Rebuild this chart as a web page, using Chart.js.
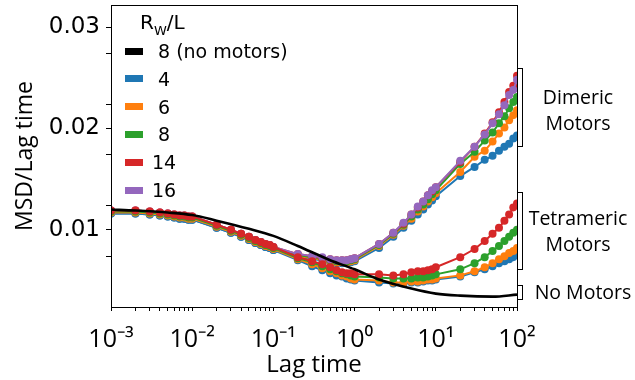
<!DOCTYPE html>
<html><head><meta charset="utf-8">
<script src="https://cdn.jsdelivr.net/npm/chart.js@4.4.0/dist/chart.umd.min.js"></script>
<style>
html,body{margin:0;padding:0;background:#fff;}
#wrap{position:relative;width:635px;height:380px;overflow:hidden;background:#fff;}
#c{position:absolute;left:0;top:0;}
.legTitle{position:absolute;left:140px;top:12px;font-family:'DejaVu Sans';font-size:20px;color:#000;line-height:1;}
.legTitle sub{font-size:13px;vertical-align:-6px;}
.row{position:absolute;left:125px;height:28px;display:flex;align-items:center;font-family:'DejaVu Sans';font-size:19px;color:#000;white-space:pre;}
.patch{width:18px;height:7px;margin-right:9px;}
.brk{position:absolute;left:517px;width:5px;border:1px solid #000;border-left:none;}
.note{position:absolute;font-family:'Open Sans';font-size:19.5px;color:#000;text-align:center;line-height:26px;white-space:pre;}
</style></head><body>
<div id="wrap"><canvas id="c" width="635" height="380"></canvas></div>
<script>
// ---------- data ----------
const lagTime = [0.001,0.002,0.003,0.004,0.005,0.006,0.007,0.008,0.009,
  0.01,0.02,0.03,0.04,0.05,0.06,0.07,0.08,0.09,
  0.1,0.2,0.3,0.4,0.5,0.6,0.7,0.8,0.9,
  1,2,3,4,5,6,7,8,9,
  10,20,30,40,50,60,70,80,90,100];

const noMotorTime  = [0.001,0.002,0.005,0.01,0.02,0.05,0.1,0.2,0.5,1,2,5,10,20,50,100];
const noMotorValue = [0.0120,0.0119,0.0117,0.01145,0.0109,0.0101,0.0094,0.0084,0.0070,0.0061,0.0051,0.0042,0.0037,0.0035,0.0034,0.0036];

const dimeric4 = [0.0116,0.0116,0.0115,0.0114,0.0113,0.0112,0.0111,0.0111,0.0110,0.0110,0.0102,0.0097,0.0093,0.0090,0.0087,0.0085,0.0083,0.0082,0.0080,
  0.0073,0.0071,0.0070,0.0068,0.0067,0.0067,0.0067,0.0068,
  0.0069,0.0082,0.0093,0.0102,0.0109,0.0115,0.0120,0.0125,0.0129,0.0133,
  0.0153,0.0162,0.0169,0.0173,0.0178,0.0182,0.0185,0.0190,0.0193];
const dimeric6 = [0.0117,0.0117,0.0116,0.0115,0.0114,0.0113,0.0112,0.0112,0.0111,0.0111,0.0103,0.0098,0.0094,0.0091,0.0088,0.0086,0.0084,0.0083,0.0081,
  0.0074,0.0072,0.0071,0.0069,0.0068,0.0068,0.0068,0.0069,
  0.0070,0.0084,0.0095,0.0104,0.0111,0.0118,0.0123,0.0128,0.0132,0.0136,
  0.0157,0.0172,0.0178,0.0187,0.0195,0.0201,0.0208,0.0213,0.0218];
const dimeric8 = [0.0118,0.0118,0.0117,0.0116,0.0115,0.0114,0.0113,0.0113,0.0112,0.0112,0.0104,0.0099,0.0095,0.0092,0.0089,0.0087,0.0085,0.0084,0.0082,
  0.0075,0.0073,0.0072,0.0070,0.0069,0.0069,0.0069,0.0070,
  0.0071,0.0085,0.0096,0.0105,0.0113,0.0120,0.0125,0.0130,0.0135,0.0139,
  0.0165,0.0177,0.0188,0.0196,0.0205,0.0212,0.0220,0.0226,0.0231];
const dimeric14 = [0.0119,0.0119,0.0118,0.0117,0.0116,0.0115,0.0114,0.0114,0.0113,0.0113,0.0105,0.0100,0.0096,0.0093,0.0090,0.0088,0.0086,0.0085,0.0083,
  0.0076,0.0074,0.0072,0.0071,0.0070,0.0070,0.0070,0.0071,
  0.0072,0.0086,0.0097,0.0106,0.0115,0.0122,0.0128,0.0134,0.0138,0.0142,
  0.0167,0.0182,0.0195,0.0206,0.0216,0.0226,0.0236,0.0242,0.0252];
const dimeric16 = [0.0119,0.0119,0.0118,0.0117,0.0116,0.0115,0.0114,0.0114,0.0113,0.0113,0.0105,0.0100,0.0096,0.0093,0.0090,0.0088,0.0086,0.0085,0.0083,
  0.0076,0.0074,0.0073,0.0071,0.0070,0.0070,0.0070,0.0071,
  0.0072,0.0086,0.0097,0.0107,0.0115,0.0123,0.0128,0.0134,0.0139,0.0142,
  0.0168,0.0182,0.0194,0.0205,0.0214,0.0223,0.0233,0.0238,0.0248];

const tetrameric4 = [0.0116,0.0116,0.0115,0.0114,0.0113,0.0112,0.0111,0.0111,0.0110,0.0110,0.0102,0.0097,0.0093,0.0090,0.0087,0.0085,0.0083,0.0082,0.0080,
  0.0070,0.0064,0.0060,0.0057,0.0055,0.0054,0.0052,0.0051,
  0.0050,0.0048,0.0047,0.0047,0.0048,0.0048,0.0049,0.0050,0.0050,0.0051,
  0.0054,0.0058,0.0061,0.0064,0.0067,0.0069,0.0071,0.0073,0.0075];
const tetrameric6 = [0.0117,0.0117,0.0116,0.0115,0.0114,0.0113,0.0112,0.0112,0.0111,0.0111,0.0103,0.0098,0.0094,0.0091,0.0088,0.0086,0.0084,0.0083,0.0081,
  0.0071,0.0066,0.0062,0.0059,0.0057,0.0055,0.0054,0.0052,
  0.0051,0.0050,0.0048,0.0048,0.0049,0.0049,0.0050,0.0051,0.0051,0.0052,
  0.0055,0.0059,0.0063,0.0067,0.0071,0.0074,0.0077,0.0079,0.0082];
const tetrameric8 = [0.0118,0.0118,0.0117,0.0116,0.0115,0.0114,0.0113,0.0113,0.0112,0.0112,0.0104,0.0099,0.0095,0.0092,0.0089,0.0087,0.0085,0.0084,0.0082,
  0.0072,0.0068,0.0064,0.0061,0.0059,0.0057,0.0056,0.0055,
  0.0054,0.0053,0.0052,0.0052,0.0052,0.0053,0.0053,0.0054,0.0055,0.0056,
  0.0061,0.0067,0.0073,0.0079,0.0084,0.0089,0.0093,0.0097,0.0100];
const tetrameric14 = [0.0119,0.0119,0.0118,0.0117,0.0116,0.0115,0.0114,0.0114,0.0113,0.0113,0.0105,0.0100,0.0096,0.0093,0.0090,0.0088,0.0086,0.0085,0.0083,
  0.0073,0.0069,0.0066,0.0063,0.0060,0.0058,0.0057,0.0057,
  0.0056,0.0056,0.0055,0.0056,0.0058,0.0059,0.0059,0.0060,0.0061,0.0063,
  0.0073,0.0081,0.0089,0.0096,0.0102,0.0109,0.0115,0.0122,0.0126];

const legendLabels = [' 8 (no motors)', ' 4', ' 6', ' 8', '14', '16'];
const legendColors = ['#000000', '#1f77b4', '#ff7f0e', '#2ca02c', '#d62728', '#9467bd'];
const xTickLabels = ['10\u207B\u00B3', '10\u207B\u00B2', '10\u207B\u00B9', '10\u2070', '10\u00B9', '10\u00B2'];
const yTickValues = [0.01, 0.02, 0.03];
const yMinorTickValues = [0.005, 0.010, 0.015, 0.020, 0.025];
const yMinorOffset = 0.00238;

// ---------- legend & annotations (HTML text) ----------
const wrap = document.getElementById('wrap');
const t = document.createElement('div');
t.className = 'legTitle';
t.innerHTML = 'R<sub>W</sub>/L';
wrap.appendChild(t);
legendLabels.forEach((lab, i) => {
  const r = document.createElement('div');
  r.className = 'row';
  r.style.top = (37 + 27.8 * i) + 'px';
  const p = document.createElement('div');
  p.className = 'patch';
  p.style.background = legendColors[i];
  const s = document.createElement('span');
  s.textContent = lab;
  r.appendChild(p); r.appendChild(s);
  wrap.appendChild(r);
});
function bracket(top, h) {
  const b = document.createElement('div');
  b.className = 'brk';
  b.style.top = top + 'px';
  b.style.height = h + 'px';
  wrap.appendChild(b);
}
function note(txt, left, top, w) {
  const n = document.createElement('div');
  n.className = 'note';
  n.style.left = left + 'px'; n.style.top = top + 'px'; n.style.width = w + 'px';
  n.textContent = txt;
  wrap.appendChild(n);
}
bracket(68, 77); bracket(192, 76); bracket(285, 13);
note('Dimeric\nMotors', 528, 84, 100);
note('Tetrameric\nMotors', 528, 205, 100);
note('No Motors', 531, 279, 104);

// ---------- chart ----------
const pts = (xs, ys) => xs.map((x, i) => ({x: x, y: ys[i]}));
function series(label, ys, color, order) {
  return {label: label, data: pts(lagTime, ys), borderColor: color, backgroundColor: color,
    borderWidth: 2, pointRadius: 4, pointBorderWidth: 0, pointBackgroundColor: color,
    pointHoverRadius: 4, tension: 0, order: order};
}
const datasets = [
  {label: '8 (no motors)', data: pts(noMotorTime, noMotorValue), borderColor: '#000', backgroundColor: '#000',
   borderWidth: 2.6, pointRadius: 0, tension: 0.4, cubicInterpolationMode: 'monotone', order: 0},
  series('4', dimeric4, '#1f77b4', 9),
  series('6', dimeric6, '#ff7f0e', 8),
  series('8', dimeric8, '#2ca02c', 7),
  series('14', dimeric14, '#d62728', 6),
  series('16', dimeric16, '#9467bd', 5),
  series('4 tetra', tetrameric4, '#1f77b4', 4),
  series('6 tetra', tetrameric6, '#ff7f0e', 3),
  series('8 tetra', tetrameric8, '#2ca02c', 2),
  series('14 tetra', tetrameric14, '#d62728', 1)
];

const frame = {
  id: 'frame',
  afterDraw(chart) {
    const a = chart.chartArea, ctx = chart.ctx;
    ctx.save();
    ctx.strokeStyle = '#000'; ctx.lineWidth = 1;
    ctx.strokeRect(Math.round(a.left) + 0.5, Math.round(a.top) + 0.5, Math.round(a.right - a.left), Math.round(a.bottom - a.top));
    ctx.restore();
  }
};

function noPad(scale) {
  scale.paddingTop = 0; scale.paddingBottom = 0; scale.paddingLeft = 0; scale.paddingRight = 0;
}

new Chart(document.getElementById('c'), {
  type: 'line',
  data: {datasets: datasets},
  plugins: [frame],
  options: {
    responsive: false, animation: false, devicePixelRatio: 1,
    layout: {padding: {left: 8, right: 118, top: 5, bottom: 0}},
    plugins: {legend: {display: false}, tooltip: {enabled: false}},
    scales: {
      x: {
        type: 'logarithmic', min: 0.001, max: 100, position: 'bottom',
        afterBuildTicks(scale) {
          const v = [];
          for (let e = -3; e <= 1; e++) for (let m = 1; m <= 9; m++) v.push(m * Math.pow(10, e));
          v.push(100);
          scale.ticks = v.map(x => ({value: x}));
        },
        afterFit(scale) { scale.height = 73; noPad(scale); },
        ticks: {
          autoSkip: false, maxRotation: 0, color: '#000', padding: 14,
          font: {family: 'Open Sans', size: 25},
          callback(value) {
            const e = Math.log10(value);
            if (Math.abs(e - Math.round(e)) < 1e-6) return xTickLabels[Math.round(e) + 3];
            return '';
          }
        },
        grid: {drawOnChartArea: false, drawTicks: true, tickLength: 4, color: '#000', tickColor: '#000'},
        border: {display: true, color: '#000', width: 1},
        title: {display: true, text: 'Lag time', color: '#000', font: {family: 'Open Sans', size: 24}, padding: {top: 0, bottom: 0}}
      },
      y: {
        type: 'linear', min: 0.00238, max: 0.03218,
        afterBuildTicks(scale) {
          const v = yTickValues.concat(yMinorTickValues.map(m => m + yMinorOffset));
          v.sort((a, b) => a - b);
          scale.ticks = v.map(x => ({value: x}));
        },
        afterFit(scale) { scale.width = 103; noPad(scale); },
        ticks: {
          autoSkip: false, color: '#000', padding: 6,
          font: {family: 'DejaVu Sans', size: 23},
          callback(value) {
            for (const tv of yTickValues) if (Math.abs(tv - value) < 1e-9) return tv.toFixed(2);
            return '';
          }
        },
        grid: {drawOnChartArea: false, drawTicks: true, tickLength: 5, color: '#000', tickColor: '#000'},
        border: {display: true, color: '#000', width: 1},
        title: {display: true, text: 'MSD/Lag time', color: '#000', font: {family: 'Open Sans', size: 23}, padding: {top: 4, bottom: 0}}
      }
    }
  }
});
</script>
</body></html>
